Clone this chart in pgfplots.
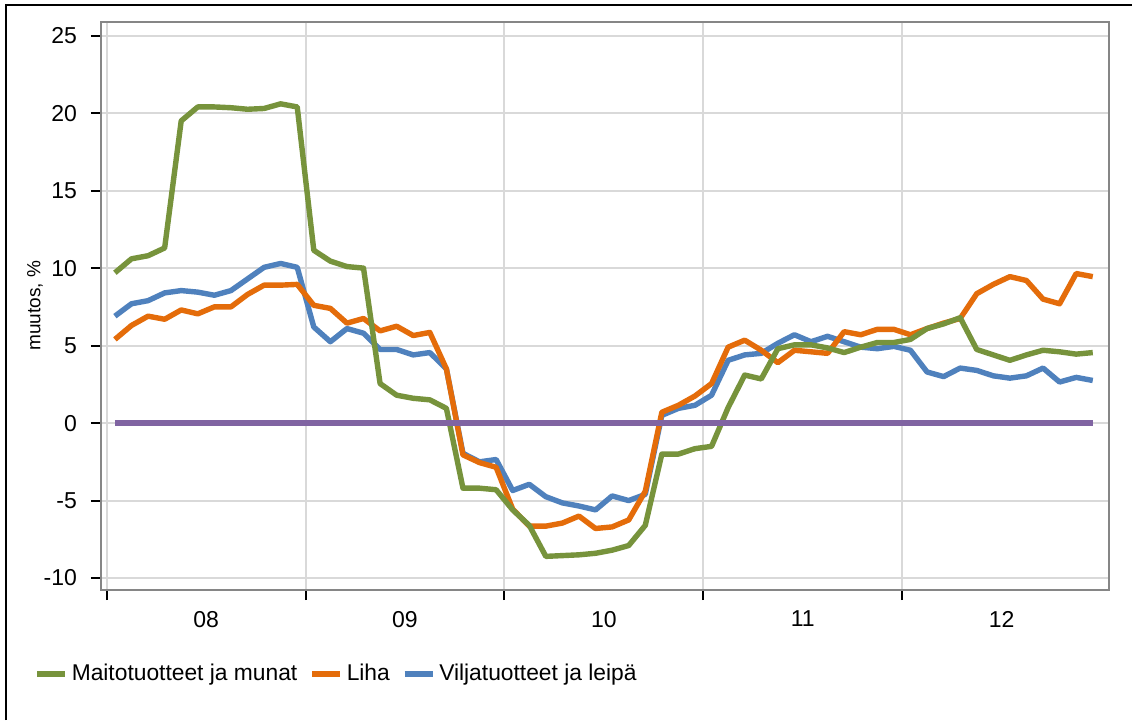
\documentclass[border=0pt]{standalone}
\usepackage{fontspec}
\setmainfont{Liberation Sans}
\usepackage{pgfplots}
\pgfplotsset{compat=1.18}
\usepackage{pgfplotstable}
\definecolor{cgreen}{HTML}{77933C}
\definecolor{corange}{HTML}{E46C0A}
\definecolor{cblue}{HTML}{4F81BD}
\definecolor{cpurple}{HTML}{8064A2}
\definecolor{cgrid}{HTML}{D9D9D9}
\definecolor{cframe}{HTML}{868686}

\pgfplotstableread{
i maito liha vilja zero
0 9.7 5.4 6.9 0
1 10.6 6.3 7.7 0
2 10.8 6.9 7.9 0
3 11.3 6.7 8.4 0
4 19.5 7.3 8.55 0
5 20.4 7.05 8.45 0
6 20.4 7.5 8.25 0
7 20.35 7.5 8.55 0
8 20.25 8.3 9.3 0
9 20.3 8.9 10.05 0
10 20.6 8.9 10.3 0
11 20.4 8.95 10.05 0
12 11.15 7.6 6.2 0
13 10.45 7.4 5.25 0
14 10.1 6.45 6.1 0
15 10.0 6.75 5.8 0
16 2.55 5.95 4.75 0
17 1.8 6.25 4.75 0
18 1.6 5.65 4.4 0
19 1.5 5.85 4.55 0
20 0.95 3.5 3.5 0
21 -4.2 -2.05 -1.95 0
22 -4.2 -2.55 -2.5 0
23 -4.3 -2.85 -2.35 0
24 -5.6 -5.55 -4.35 0
25 -6.6 -6.65 -3.95 0
26 -8.6 -6.65 -4.75 0
27 -8.55 -6.45 -5.15 0
28 -8.5 -6.0 -5.35 0
29 -8.4 -6.8 -5.6 0
30 -8.2 -6.7 -4.7 0
31 -7.9 -6.25 -5.0 0
32 -6.6 -4.4 -4.6 0
33 -2.0 0.7 0.5 0
34 -2.0 1.15 0.95 0
35 -1.65 1.75 1.15 0
36 -1.5 2.55 1.8 0
37 1.0 4.9 4.05 0
38 3.1 5.35 4.4 0
39 2.85 4.7 4.5 0
40 4.8 3.9 5.15 0
41 5.05 4.7 5.7 0
42 5.05 4.6 5.25 0
43 4.85 4.5 5.6 0
44 4.55 5.9 5.25 0
45 4.9 5.7 4.9 0
46 5.2 6.05 4.8 0
47 5.2 6.05 4.95 0
48 5.4 5.7 4.7 0
49 6.1 6.1 3.3 0
50 6.4 6.45 3.0 0
51 6.8 6.75 3.55 0
52 4.75 8.35 3.4 0
53 4.4 8.95 3.05 0
54 4.05 9.45 2.9 0
55 4.4 9.2 3.05 0
56 4.7 8.0 3.55 0
57 4.6 7.7 2.65 0
58 4.45 9.65 2.95 0
59 4.55 9.45 2.75 0
}\datatable

\begin{document}
\begin{tikzpicture}
\useasboundingbox (0,0) rectangle (566pt,360pt);
\fill[white] (0,0) rectangle (566pt,360pt);
\draw[black, line width=1pt] (3pt,0) -- (3pt,357.5pt) -- (566pt,357.5pt);
\begin{axis}[
  at={(50.5pt,65pt)}, anchor=south west,
  scale only axis, width=504pt, height=284.15pt,
  xmin=-0.84, xmax=59.98, ymin=-10.77, ymax=25.9,
  ytick={-10,-5,...,25},
  xtick={-0.5,11.5,23.5,35.5,47.5},
  xticklabels={},
  extra x ticks={5.5,17.5,29.5,41.5,53.5},
  extra x tick labels={08,09,10,11,12},
  extra x tick style={xmajorgrids=false, major tick length=0pt,
     tick style={draw=none}},
  xtick pos=bottom, ytick pos=left,
  xmajorgrids, ymajorgrids,
  grid style={color=cgrid, line width=1pt},
  axis line style={color=cframe, line width=0.9pt},
  tick align=outside,
  major tick length=5pt,
  tick style={black, line width=1pt},
  tick label style={font=\fontsize{11.5}{13}\selectfont},
  yticklabel style={xshift=-3.5pt},
  xticklabel style={yshift=-7pt},
  /pgf/number format/assume math mode=true,
  ylabel={muutos, \%},
  ylabel style={at={(axis description cs:-0.0655,0.5)}, anchor=center,
     font=\fontsize{9.5}{11}\selectfont},
  legend style={at={(axis description cs:-0.0665,-0.148)}, anchor=west,
     draw=none, fill=none, inner sep=0pt, legend columns=-1,
     font=\fontsize{11.4}{13}\selectfont,
     /tikz/every even column/.append style={column sep=4pt}},
  legend image code/.code={\draw[#1] (0pt,0pt) -- (14pt,0pt);},
]
\addplot[cblue, line width=2.7pt, line join=round, forget plot] table[x=i,y=vilja]{\datatable};
\addplot[corange, line width=2.7pt, line join=round, forget plot] table[x=i,y=liha]{\datatable};
\addplot[cgreen, line width=2.7pt, line join=round, forget plot] table[x=i,y=maito]{\datatable};
\addplot[cpurple, line width=2.7pt, forget plot] table[x=i,y=zero]{\datatable};
\addlegendimage{cgreen, line width=2.7pt}
\addlegendentry{Maitotuotteet ja munat}
\addlegendimage{corange, line width=2.7pt}
\addlegendentry{Liha}
\addlegendimage{cblue, line width=2.7pt}
\addlegendentry{Viljatuotteet ja leipä}
\end{axis}
\end{tikzpicture}
\end{document}
